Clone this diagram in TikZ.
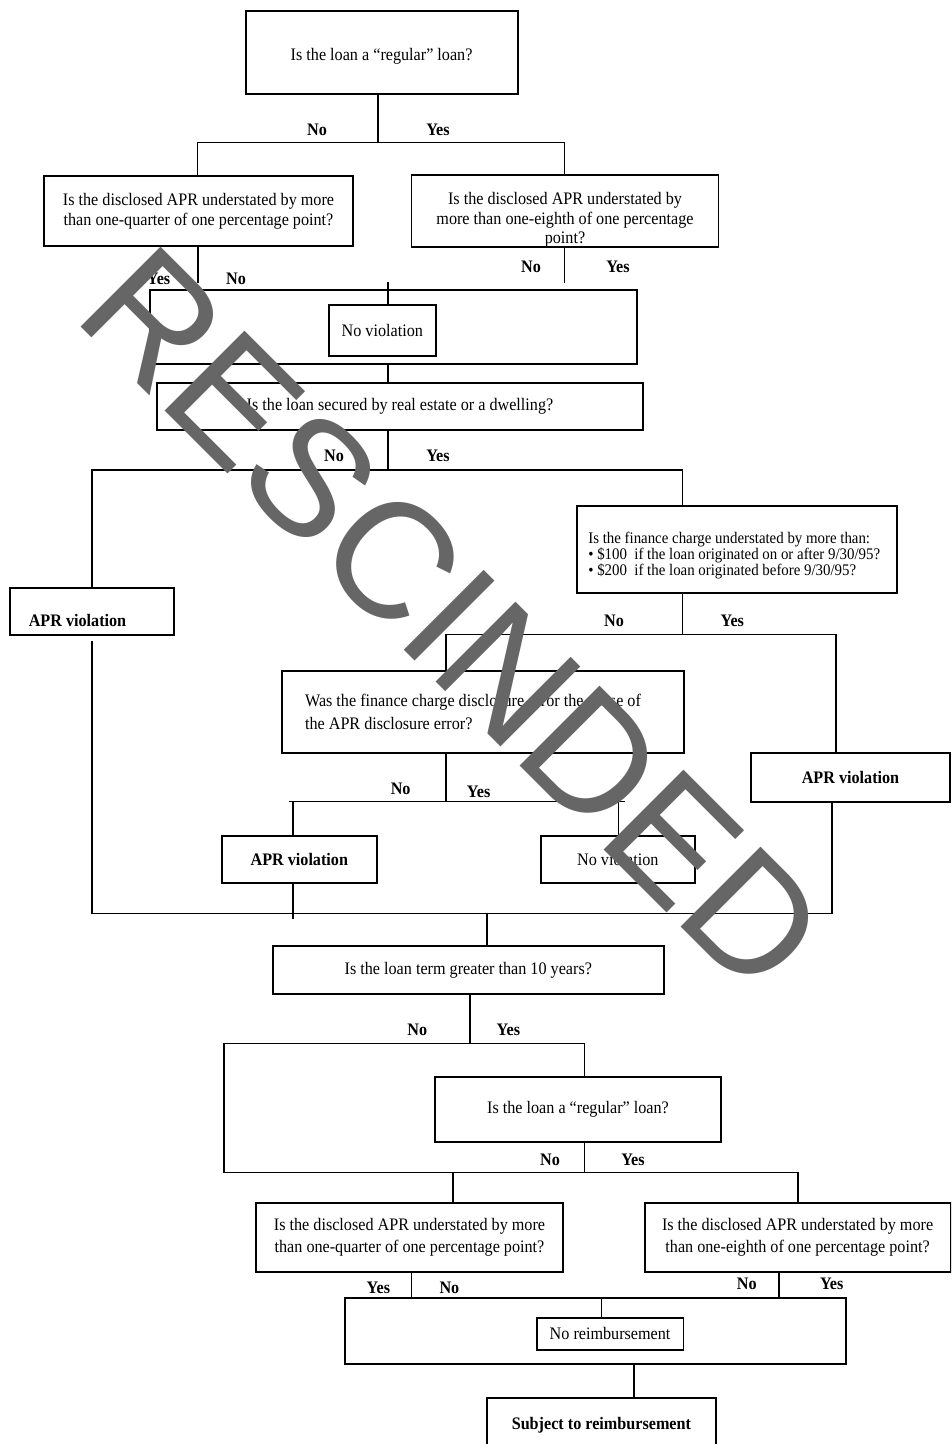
\documentclass[tikz,border=0pt]{standalone}
\usepackage{fontspec}
\setmainfont{Liberation Serif}[FakeStretch=0.92]
\newfontfamily\stampfont{Liberation Sans}
\usepackage{tikz}
\definecolor{stamp}{gray}{0.4}
\tikzstyle{question} = [draw, line width=1.1pt, inner sep=0pt, align=center, font=\fontsize{10}{11.5}\selectfont]
\tikzstyle{result} = [draw, line width=1.1pt, inner sep=0pt, font=\fontsize{10}{12}\selectfont\bfseries]
\tikzstyle{frame} = [draw, line width=1.1pt, inner sep=0pt]
\tikzstyle{answer} = [inner sep=0pt, font=\fontsize{10}{12}\selectfont\bfseries]
\tikzset{boxsize/.style 2 args={minimum width=#1*0.02cm, minimum height=#2*0.02cm}}

\begin{document}
\begin{tikzpicture}[x=0.02cm, y=-0.02cm, line width=0.8pt, line cap=rect]
	\useasboundingbox (0, 0) rectangle (951, 1444);
	\clip (0, 0) rectangle (951, 1444);

	% is the loan regular
	\node (Regular) [question, boxsize={272}{83}] at (381.6, 52.5) {\rule{0pt}{11pt}Is the loan a “regular” loan?};
	\coordinate (RegularSplit) at (378, 142.7);
	\coordinate (RegularL) at (197.7, 142.7);
	\coordinate (RegularR) at (564.6, 142.7);
	\draw (Regular.south -| RegularSplit) -- (RegularSplit);
	\draw (RegularL) -- (RegularR);
	\node (RegularNo) [answer] at (317, 130) {No};
	\node (RegularYes) [answer] at (438, 130) {Yes};

	% understated APR
	\node (Quarter) [question, boxsize={309}{70}] at (198.5, 211) {Is the disclosed APR understated by more\\than one-quarter of one percentage point?};
	\node (Eighth) [question, boxsize={307}{70}, font=\fontsize{10}{11}\selectfont] at (565, 211) {\rule{0pt}{17pt}Is the disclosed APR understated by\\more than one-eighth of one percentage\\point?};
	\draw (RegularL) -- (Quarter.north -| RegularL);
	\draw (RegularR) -- (Eighth.north -| RegularR);
	\coordinate (QuarterOut) at (198, 282);
	\coordinate (EighthOut) at (564.6, 282);
	\draw (Quarter.south -| QuarterOut) -- (QuarterOut);
	\draw (Eighth.south -| EighthOut) -- (EighthOut);
	\node (QuarterYes) [answer] at (158.6, 279) {Yes};
	\node (QuarterNo) [answer] at (236, 279) {No};
	\node (EighthNo) [answer] at (531, 267) {No};
	\node (EighthYes) [answer] at (618, 267) {Yes};

	% no violation
	\node (ViolFrame) [frame, boxsize={487}{74}] at (393.5, 327) {};
	\node (NoViol) [question, boxsize={106.7}{51}] at (382.3, 330.5) {No violation};
	\coordinate (ViolIn) at (388, 283);
	\draw (ViolIn) -- (ViolIn |- NoViol.north);

	% secured by real estate
	\node (Secured) [question, boxsize={486}{47}] at (400, 406.5) {Is the loan secured by real estate or a dwelling?};
	\draw (ViolFrame.south -| ViolIn) -- (Secured.north -| ViolIn);
	\coordinate (SecuredSplit) at (388, 470);
	\coordinate (SecuredL) at (92, 470);
	\coordinate (SecuredR) at (682.7, 470);
	\draw (Secured.south -| SecuredSplit) -- (SecuredSplit);
	\draw (SecuredL) -- (SecuredR);
	\node (SecuredNo) [answer] at (334, 456) {No};
	\node (SecuredYes) [answer] at (438, 456) {Yes};

	% not secured
	\node (AprLeft) [result, boxsize={164.3}{47}, align=flush left, text width=2.526cm, inner xsep=0.38cm, text height=17.4pt, text depth=0pt] at (91.9, 611.5) {APR violation};
	\draw (SecuredL) -- (AprLeft.north -| SecuredL);
	\coordinate (LeftTop) at (92, 641.7);
	\coordinate (LeftBottom) at (92, 913.3);
	\draw (LeftTop) -- (LeftBottom);

	% finance charge
	\node (Finance) [question, boxsize={319.4}{86.7}, align=flush left, text width=5.948cm, inner xsep=0.22cm, font=\fontsize{9.2}{9.1}\selectfont] at (737, 549.35) {\rule{0pt}{13.7pt}Is the finance charge understated by more than:\\• \$100\ \ if the loan originated on or after 9/30/95?\\• \$200\ \ if the loan originated before 9/30/95?};
	\draw (SecuredR) -- (Finance.north -| SecuredR);
	\coordinate (FinanceSplit) at (682.7, 634.3);
	\coordinate (FinanceL) at (446, 634.3);
	\coordinate (FinanceR) at (836, 634.3);
	\draw (Finance.south -| FinanceSplit) -- (FinanceSplit);
	\draw (FinanceL) -- (FinanceR);
	\node (FinanceNo) [answer] at (614, 621) {No};
	\node (FinanceYes) [answer] at (732.3, 621) {Yes};

	% cause of the APR error
	\node (Cause) [question, boxsize={401.6}{82.3}, align=flush left, text width=7.112cm, inner xsep=0.46cm, font=\fontsize{10}{12.7}\selectfont] at (482.8, 711.8) {Was the finance charge disclosure error the cause of\\the APR disclosure error?};
	\draw (FinanceL) -- (Cause.north -| FinanceL);
	\node (AprRight) [result, boxsize={199}{48.7}] at (850.5, 777.3) {APR violation};
	\draw (FinanceR) -- (AprRight.north -| FinanceR);
	\coordinate (RightBottom) at (832, 913.3);
	\draw (AprRight.south -| RightBottom) -- (RightBottom);

	\coordinate (CauseSplit) at (446, 801.7);
	\coordinate (CauseL) at (290, 801.7);
	\coordinate (CauseR) at (624, 801.7);
	\draw (Cause.south -| CauseSplit) -- (CauseSplit);
	\draw (CauseL) -- (CauseR);
	\node (CauseNo) [answer] at (400.7, 789) {No};
	\node (CauseYes) [answer] at (478.6, 791.7) {Yes};
	\coordinate (CauseNoDrop) at (293, 801.7);
	\coordinate (CauseYesDrop) at (618.5, 801.7);
	\node (AprMid) [result, boxsize={155.4}{46.7}] at (299.3, 859.3) {APR violation};
	\node (NoViolMid) [question, boxsize={153.6}{46.7}] at (617.8, 859.3) {No violation};
	\draw (CauseNoDrop) -- (AprMid.north -| CauseNoDrop);
	\draw (CauseYesDrop) -- (NoViolMid.north -| CauseYesDrop);
	\coordinate (MidBottom) at (293, 918);
	\draw (AprMid.south -| MidBottom) -- (MidBottom);

	% merge
	\draw (LeftBottom) -- (RightBottom);
	\coordinate (MergeSplit) at (487, 913.3);
	\node (Term) [question, boxsize={391}{48.6}] at (468.3, 970) {Is the loan term greater than 10 years?};
	\draw (MergeSplit) -- (Term.north -| MergeSplit);

	% term over ten years
	\coordinate (TermSplit) at (470, 1043.3);
	\coordinate (TermL) at (224, 1043.3);
	\coordinate (TermR) at (584.6, 1043.3);
	\draw (Term.south -| TermSplit) -- (TermSplit);
	\draw (TermL) -- (TermR);
	\node (TermNo) [answer] at (417.3, 1030) {No};
	\node (TermYes) [answer] at (508.4, 1030) {Yes};

	\node (RegularTwo) [question, boxsize={286}{65.6}] at (578, 1109.5) {Is the loan a “regular” loan?};
	\draw (TermR) -- (RegularTwo.north -| TermR);
	\coordinate (RegularTwoSplit) at (584.6, 1172.3);
	\coordinate (RegularTwoL) at (224, 1172.3);
	\coordinate (RegularTwoR) at (798, 1172.3);
	\draw (RegularTwo.south -| RegularTwoSplit) -- (RegularTwoSplit);
	\draw (TermL) -- (RegularTwoL);
	\draw (RegularTwoL) -- (RegularTwoR);
	\node (RegularTwoNo) [answer] at (550, 1160) {No};
	\node (RegularTwoYes) [answer] at (633, 1160) {Yes};

	% understated APR again
	\node (QuarterTwo) [question, boxsize={307}{68.4}, font=\fontsize{10}{12.7}\selectfont] at (409.5, 1237.5) {Is the disclosed APR understated by more\\than one-quarter of one percentage point?};
	\node (EighthTwo) [question, boxsize={306}{68.4}, font=\fontsize{10}{12.7}\selectfont] at (797.6, 1237.5) {Is the disclosed APR understated by more\\than one-eighth of one percentage point?};
	\coordinate (QuarterTwoIn) at (452.8, 1172.3);
	\draw (QuarterTwoIn) -- (QuarterTwo.north -| QuarterTwoIn);
	\draw (RegularTwoR) -- (EighthTwo.north -| RegularTwoR);
	\coordinate (QuarterTwoOut) at (411.5, 1298.3);
	\coordinate (EighthTwoOut) at (778.9, 1298.3);
	\draw (QuarterTwo.south -| QuarterTwoOut) -- (QuarterTwoOut);
	\draw (EighthTwo.south -| EighthTwoOut) -- (EighthTwoOut);
	\node (QuarterTwoYes) [answer] at (378.4, 1288.3) {Yes};
	\node (QuarterTwoNo) [answer] at (449.4, 1288.3) {No};
	\node (EighthTwoNo) [answer] at (746.8, 1284) {No};
	\node (EighthTwoYes) [answer] at (831.7, 1284) {Yes};

	% reimbursement
	\node (ReimbFrame) [frame, boxsize={501.2}{66}] at (595.4, 1331.3) {};
	\node (NoReimb) [question, boxsize={146.8}{32.3}] at (610.1, 1333.9) {No reimbursement};
	\coordinate (ReimbIn) at (601.4, 1298.3);
	\draw (ReimbIn) -- (ReimbIn |- NoReimb.north);
	\node (Subject) [result, boxsize={229.2}{56}] at (601.4, 1425.7) {Subject to reimbursement};
	\coordinate (ReimbOut) at (634, 1380);
	\draw (ReimbFrame.south -| ReimbOut) -- (Subject.north -| ReimbOut);

	% stamp across the chart
	\node (Stamp) [anchor=base west, rotate=-45, inner sep=0pt, text=stamp, font=\stampfont\fontsize{93.5}{100}\selectfont] at (70.8, 316.8) {RESCINDED};
\end{tikzpicture}
\end{document}
